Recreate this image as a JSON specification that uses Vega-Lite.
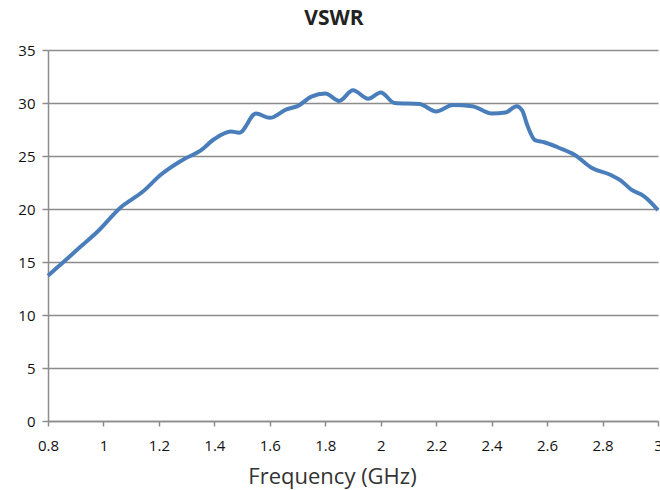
{
  "$schema": "https://vega.github.io/schema/vega-lite/v6.json",
  "autosize": {"type": "none"},
  "width": 610,
  "height": 371,
  "padding": {"left": 48, "top": 50, "right": 2, "bottom": 69},
  "background": "white",
  "title": {
    "text": "VSWR",
    "font": "Open Sans",
    "fontSize": 21,
    "fontWeight": "bold",
    "color": "#222222",
    "anchor": "middle",
    "dx": -19,
    "offset": 14
  },
  "data": {
    "values": [
      {"freq": 0.80, "vswr": 13.7},
      {"freq": 0.86, "vswr": 15.1},
      {"freq": 0.92, "vswr": 16.5},
      {"freq": 0.98, "vswr": 17.9},
      {"freq": 1.06, "vswr": 20.1},
      {"freq": 1.14, "vswr": 21.6},
      {"freq": 1.21, "vswr": 23.3},
      {"freq": 1.29, "vswr": 24.7},
      {"freq": 1.35, "vswr": 25.5},
      {"freq": 1.40, "vswr": 26.6},
      {"freq": 1.46, "vswr": 27.3},
      {"freq": 1.49, "vswr": 27.2},
      {"freq": 1.55, "vswr": 29.0},
      {"freq": 1.60, "vswr": 28.6},
      {"freq": 1.66, "vswr": 29.4},
      {"freq": 1.70, "vswr": 29.7},
      {"freq": 1.75, "vswr": 30.6},
      {"freq": 1.80, "vswr": 30.9},
      {"freq": 1.85, "vswr": 30.2},
      {"freq": 1.90, "vswr": 31.2},
      {"freq": 1.955, "vswr": 30.4},
      {"freq": 2.00, "vswr": 31.0},
      {"freq": 2.05, "vswr": 30.0},
      {"freq": 2.14, "vswr": 29.9},
      {"freq": 2.20, "vswr": 29.2},
      {"freq": 2.26, "vswr": 29.8},
      {"freq": 2.33, "vswr": 29.7},
      {"freq": 2.40, "vswr": 29.0},
      {"freq": 2.45, "vswr": 29.1},
      {"freq": 2.49, "vswr": 29.7},
      {"freq": 2.51, "vswr": 29.3},
      {"freq": 2.53, "vswr": 27.8},
      {"freq": 2.556, "vswr": 26.5},
      {"freq": 2.59, "vswr": 26.3},
      {"freq": 2.64, "vswr": 25.8},
      {"freq": 2.70, "vswr": 25.1},
      {"freq": 2.76, "vswr": 23.9},
      {"freq": 2.83, "vswr": 23.2},
      {"freq": 2.865, "vswr": 22.7},
      {"freq": 2.905, "vswr": 21.8},
      {"freq": 2.95, "vswr": 21.2},
      {"freq": 3.00, "vswr": 19.9}
    ]
  },
  "mark": {"type": "line", "interpolate": "monotone", "color": "#4A7EBB", "strokeWidth": 4, "clip": false},
  "encoding": {
    "x": {
      "field": "freq",
      "type": "quantitative",
      "scale": {"domain": [0.8, 3], "nice": false, "zero": false},
      "axis": {
        "values": [0.8, 1, 1.2, 1.4, 1.6, 1.8, 2, 2.2, 2.4, 2.6, 2.8, 3],
        "format": "~g",
        "title": "Frequency (GHz)",
        "titleFont": "Open Sans",
        "titleFontSize": 22,
        "titleFontWeight": "normal",
        "titleColor": "#333333",
        "titleX": 284,
        "titleY": 62,
        "titleBaseline": "alphabetic",
        "titleAnchor": "middle",
        "labelFont": "Open Sans",
        "labelFontSize": 15,
        "labelColor": "#111111",
        "labelPadding": 12,
        "labelFlush": false,
        "labelOverlap": false,
        "grid": false,
        "domainColor": "#8c8c8c",
        "domainWidth": 1.5,
        "tickColor": "#8c8c8c",
        "tickWidth": 1.5,
        "tickSize": 5
      }
    },
    "y": {
      "field": "vswr",
      "type": "quantitative",
      "scale": {"domain": [0, 35], "nice": false},
      "axis": {
        "values": [0, 5, 10, 15, 20, 25, 30, 35],
        "title": null,
        "labelFont": "Open Sans",
        "labelFontSize": 15,
        "labelColor": "#111111",
        "labelPadding": 7,
        "grid": true,
        "gridColor": "#8c8c8c",
        "gridWidth": 1.5,
        "domainColor": "#8c8c8c",
        "domainWidth": 1.5,
        "tickColor": "#8c8c8c",
        "tickWidth": 1.5,
        "tickSize": 6
      }
    }
  },
  "config": {"view": {"stroke": null}}
}
